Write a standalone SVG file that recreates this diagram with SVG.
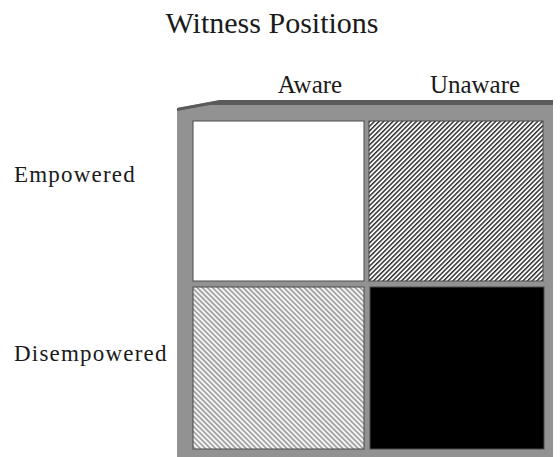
<svg xmlns="http://www.w3.org/2000/svg" width="560" height="457" viewBox="0 0 560 457">
<style>
.lbl{font-family:"Liberation Serif","Times New Roman",serif;fill:#1a1a1a}
.cell{stroke:#4a4a4a;stroke-width:1}
</style>
<defs>
<pattern id="hDark" patternUnits="userSpaceOnUse" width="3.3" height="10" patternTransform="rotate(45)">
<rect width="3.3" height="10" fill="#ffffff"/>
<rect width="1.5" height="10" fill="#333333"/>
</pattern>
<pattern id="hLight" patternUnits="userSpaceOnUse" width="3.6" height="10" patternTransform="rotate(-45)">
<rect width="3.6" height="10" fill="#f6f6f6"/>
<rect width="1.7" height="10" fill="#a0a0a0"/>
</pattern>
</defs>
<rect width="560" height="457" fill="#ffffff"/>
<g id="title"><text class="lbl" x="272" y="33" font-size="30" text-anchor="middle" fill="#000">Witness Positions</text></g>
<g id="frame">
<polygon points="177,108 220,100 553,100 553,457 177,457" fill="#929292"/>
<polygon points="177,108 220,100 553,100 553,105 210,105 177,111" fill="#5a5a5a"/>
</g>
<g id="col-labels">
<text class="lbl" x="310" y="93" font-size="25" text-anchor="middle" fill="#333">Aware</text>
<text class="lbl" x="475" y="93" font-size="25" text-anchor="middle" fill="#333">Unaware</text>
</g>
<g id="row-labels">
<text class="lbl" x="14" y="182" font-size="23" letter-spacing="1.2">Empowered</text>
<text class="lbl" x="14" y="361" font-size="23" letter-spacing="1.2">Disempowered</text>
</g>
<g id="cell-empowered-aware"><rect class="cell" x="193" y="121" width="171" height="160" fill="#ffffff"/></g>
<g id="cell-empowered-unaware"><rect class="cell" x="369" y="121" width="174" height="160" fill="url(#hDark)"/></g>
<g id="cell-disempowered-aware"><rect class="cell" x="193" y="287" width="171" height="162" fill="url(#hLight)"/></g>
<g id="cell-disempowered-unaware"><rect class="cell" x="370" y="287" width="174" height="162" fill="#000000"/></g>
<g id="connectors"/>
</svg>
